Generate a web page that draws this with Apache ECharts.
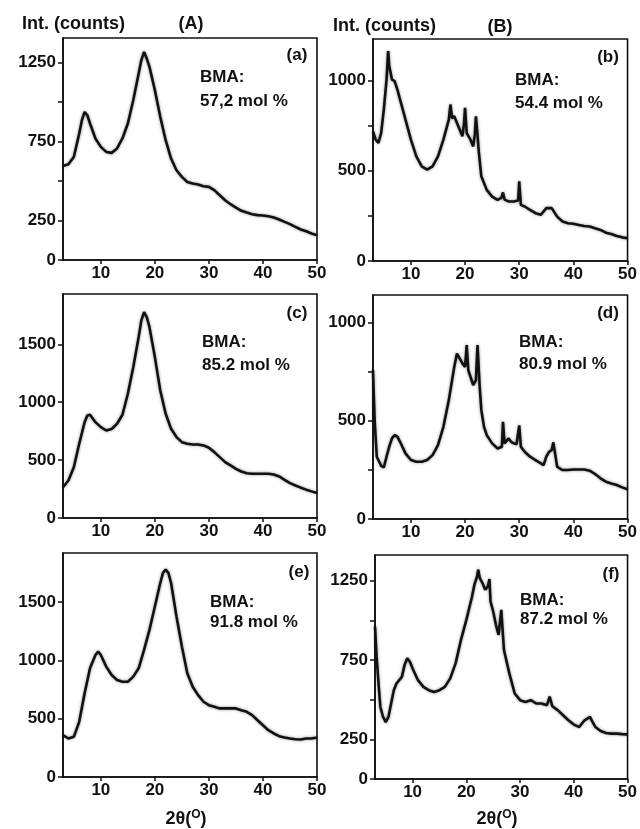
<!DOCTYPE html>
<html><head><meta charset="utf-8">
<script src="https://cdn.jsdelivr.net/npm/echarts@6/dist/echarts.min.js"></script>
<style>html,body{margin:0;padding:0;background:#fff}#c{width:640px;height:829px}</style>
</head><body><div id="c"></div>
<script>
// Data (2theta, counts)
const panelA = [[3,595],[4,606],[5,652],[6,800],[6.5,885],[7,937],[7.5,916],[8,864],[9,769],[10,716],[11,684],[12,678],[13,706],[14,769],[15,864],[16,1011],[17,1180],[17.5,1265],[18,1317],[18.5,1275],[19,1222],[20,1075],[21,906],[22,758],[23,642],[24,568],[25,526],[26,494],[27,484],[28,478],[29,467],[30,463],[31,442],[32,410],[33,378],[34,353],[35,332],[36,311],[37,300],[38,290],[39,284],[40,282],[41,277],[42,269],[43,256],[44,241],[45,227],[46,210],[47,193],[48,182],[49,168],[50,157]];
const panelB = [[3,718],[3.5,672],[4,654],[4.5,709],[5,839],[5.5,1005],[5.8,1163],[6,1080],[6.5,1005],[7,996],[7.5,950],[8,894],[9,783],[10,672],[11,580],[12,524],[13,506],[14,524],[15,580],[16,672],[17,783],[17.3,867],[17.6,790],[18,802],[19,728],[19.5,691],[19.8,760],[20,848],[20.3,709],[21,672],[21.5,635],[21.8,700],[22,802],[22.3,700],[22.5,617],[23,469],[24,394],[25,357],[26,339],[26.7,350],[27,380],[27.3,340],[28,330],[29,330],[29.8,335],[30,441],[30.3,311],[31,302],[32,283],[33,265],[34,256],[35,293],[36,293],[37,246],[38,219],[39,209],[40,206],[41,200],[42,194],[43,191],[44,181],[45,172],[46,157],[47,150],[48,139],[49,131],[50,126]];
const panelC = [[3,266],[4,324],[5,439],[6,641],[7,828],[7.5,886],[8,892],[9,828],[10,785],[11,756],[12,769],[13,814],[14,892],[15,1073],[16,1303],[17,1563],[17.5,1707],[18,1779],[18.5,1736],[19,1649],[20,1390],[21,1102],[22,900],[23,771],[24,699],[25,655],[26,641],[27,635],[28,635],[29,627],[30,607],[31,569],[32,526],[33,483],[34,454],[35,425],[36,402],[37,387],[38,382],[39,382],[40,382],[41,382],[42,376],[43,359],[44,330],[45,301],[46,281],[47,262],[48,245],[49,230],[50,216]];
const panelD = [[3,757],[3.3,503],[3.7,317],[4.5,271],[5,263],[5.5,317],[6,368],[6.5,410],[7,427],[7.5,419],[8,393],[9,334],[10,300],[11,291],[12,291],[13,300],[14,325],[15,376],[16,469],[17,605],[17.5,690],[18,774],[18.5,842],[19,817],[19.5,792],[20,774],[20.3,885],[20.6,757],[21,724],[21.5,681],[22,707],[22.3,885],[22.7,673],[23,554],[23.5,469],[24,427],[25,385],[26,359],[26.8,368],[27,495],[27.3,385],[28,410],[28.5,393],[29,385],[29.5,380],[30,476],[30.3,368],[31,342],[32,317],[33,300],[34,283],[34.5,274],[35,317],[35.5,342],[36,351],[36.3,390],[36.7,320],[37,266],[38,249],[39,249],[40,252],[41,252],[42,252],[43,246],[44,229],[45,207],[46,190],[47,181],[48,173],[49,161],[50,151]];
const panelE = [[3,358],[4,330],[5,344],[6,473],[7,717],[8,932],[9,1046],[9.5,1075],[10,1046],[11,946],[12,874],[13,831],[14,817],[15,817],[16,860],[17,932],[18,1089],[19,1261],[20,1462],[21,1663],[21.5,1749],[22,1777],[22.5,1749],[23,1663],[24,1376],[25,1118],[26,889],[27,774],[28,702],[29,645],[30,616],[31,602],[32,588],[33,588],[34,588],[35,588],[36,573],[37,559],[38,530],[39,487],[40,444],[41,401],[42,373],[43,350],[44,339],[45,330],[46,324],[47,321],[48,330],[49,330],[50,339]];
const panelF = [[3,961],[3.3,771],[3.7,581],[4,454],[4.5,391],[5,359],[5.5,391],[6,476],[6.5,560],[7,602],[8,644],[8.5,718],[9,761],[9.5,739],[10,697],[11,623],[12,581],[13,560],[14,549],[15,560],[16,581],[17,634],[18,729],[19,877],[20,1003],[21,1141],[21.5,1225],[22,1277],[22.2,1320],[22.5,1267],[23,1235],[23.5,1193],[24,1214],[24.3,1260],[24.5,1119],[25,1056],[25.5,972],[26,908],[26.5,1066],[27,813],[28,666],[29,539],[30,497],[31,486],[32,497],[33,476],[34,476],[35,465],[35.5,519],[36,459],[37,434],[38,402],[39,370],[40,343],[41,328],[42,370],[43,391],[43.5,359],[44,328],[45,302],[46,290],[47,286],[48,286],[49,283],[50,281]];

const xTicks = [10, 20, 30, 40, 50];
const yTicksA = [0, 250, 500, 750, 1000, 1250], yLabelsA = [0, 250, 750, 1250];
const yTicksB = [0, 250, 500, 750, 1000], yLabelsB = [0, 500, 1000];
const yTicksC = [0, 500, 1000, 1500], yLabelsC = [0, 500, 1000, 1500];
const yTicksD = [0, 250, 500, 750, 1000], yLabelsD = [0, 500, 1000];
const yTicksE = [0, 500, 1000, 1500], yLabelsE = [0, 500, 1000, 1500];
const yTicksF = [0, 250, 500, 750, 1000, 1250], yLabelsF = [0, 250, 750, 1250];
const yMax = [1405, 1230, 1935, 1140, 1920, 1412];
const panelTags = ['(a)', '(b)', '(c)', '(d)', '(e)', '(f)'];
const bmaValues = ['57,2 mol %', '54.4 mol %', '85.2 mol %', '80.9 mol %', '91.8 mol %', '87.2 mol %'];

const FONT = "'Liberation Sans', Arial, sans-serif";
const panels = [panelA, panelB, panelC, panelD, panelE, panelF];
const yTicks = [yTicksA, yTicksB, yTicksC, yTicksD, yTicksE, yTicksF];
const yLabels = [yLabelsA, yLabelsB, yLabelsC, yLabelsD, yLabelsE, yLabelsF];

const gridPos = [
  {left: 63, top: 38, width: 254, height: 222},
  {left: 373, top: 39, width: 255, height: 222},
  {left: 63, top: 294, width: 254, height: 224},
  {left: 373, top: 295, width: 255, height: 224},
  {left: 63, top: 553, width: 254, height: 224},
  {left: 375, top: 555, width: 254, height: 224}
];
const tagPos = [[297,55],[608,57],[297,313],[608,313],[299,572],[611,574]];
const bmaPos = [[200,77,101],[515,80,103],[202,342,365],[519,342,364],[210,602,622],[520,600,619]];

const grids = [], xAxes = [], yAxes = [], series = [], graphics = [];
const plain = v => String(v);
panels.forEach((d, i) => {
  grids.push(Object.assign({show: true, borderColor: '#111', borderWidth: 1.6, backgroundColor: 'transparent', containLabel: false}, gridPos[i]));
  xAxes.push({
    type: 'value', gridIndex: i, min: 3, max: 50,
    axisLine: {show: true, onZero: false, lineStyle: {color: '#111', width: 1.6}},
    axisTick: {show: true, inside: false, length: 4, customValues: xTicks, lineStyle: {color: '#111', width: 1.5}},
    axisLabel: {customValues: xTicks, formatter: plain, color: '#111', fontFamily: FONT, fontWeight: 'bold', fontSize: 17, margin: 5},
    splitLine: {show: false}
  });
  yAxes.push({
    type: 'value', gridIndex: i, min: 0, max: yMax[i],
    axisLine: {show: true, onZero: false, lineStyle: {color: '#111', width: 1.6}},
    axisTick: {show: true, inside: false, length: 5, customValues: yTicks[i], lineStyle: {color: '#111', width: 1.5}},
    axisLabel: {customValues: yLabels[i], formatter: plain, color: '#111', fontFamily: FONT, fontWeight: 'bold', fontSize: 17, margin: 7},
    splitLine: {show: false}
  });
  series.push({
    type: 'line', xAxisIndex: i, yAxisIndex: i, data: d, showSymbol: false, silent: true,
    lineStyle: {color: '#111', width: 2.6, shadowColor: 'rgba(0,0,0,0.45)', shadowBlur: 3}, animation: false
  });
  graphics.push({type: 'text', x: tagPos[i][0], y: tagPos[i][1],
    style: {text: panelTags[i], font: `bold 17px ${FONT}`, fill: '#111', align: 'center', verticalAlign: 'middle'}});
  graphics.push({type: 'text', x: bmaPos[i][0], y: bmaPos[i][1],
    style: {text: 'BMA:', font: `bold 17px ${FONT}`, fill: '#111', align: 'left', verticalAlign: 'middle'}});
  graphics.push({type: 'text', x: bmaPos[i][0], y: bmaPos[i][2],
    style: {text: bmaValues[i], font: `bold 17px ${FONT}`, fill: '#111', align: 'left', verticalAlign: 'middle'}});
});

const headStyle = {font: `bold 18px ${FONT}`, fill: '#111', verticalAlign: 'middle'};
graphics.push({type: 'text', x: 22, y: 24, style: Object.assign({text: 'Int. (counts)', align: 'left'}, headStyle)});
graphics.push({type: 'text', x: 191, y: 24, style: Object.assign({text: '(A)', align: 'center'}, headStyle)});
graphics.push({type: 'text', x: 333, y: 26, style: Object.assign({text: 'Int. (counts)', align: 'left'}, headStyle)});
graphics.push({type: 'text', x: 500, y: 27, style: Object.assign({text: '(B)', align: 'center'}, headStyle)});

function thetaLabel(cx) {
  return {type: 'text', x: cx, y: 819, style: {
    text: '2θ({s|O})', align: 'center', verticalAlign: 'middle',
    font: `bold 18px ${FONT}`, fill: '#111',
    rich: {s: {fontSize: 12, fontWeight: 'bold', fontFamily: FONT, fill: '#111', verticalAlign: 'top', padding: [0, 0, 8, 0]}}
  }};
}
graphics.push(thetaLabel(186));
graphics.push(thetaLabel(497));

const chart = echarts.init(document.getElementById('c'), null, {renderer: 'canvas'});
chart.setOption({
  animation: false,
  backgroundColor: '#fff',
  grid: grids, xAxis: xAxes, yAxis: yAxes, series: series, graphic: graphics
});
</script></body></html>
